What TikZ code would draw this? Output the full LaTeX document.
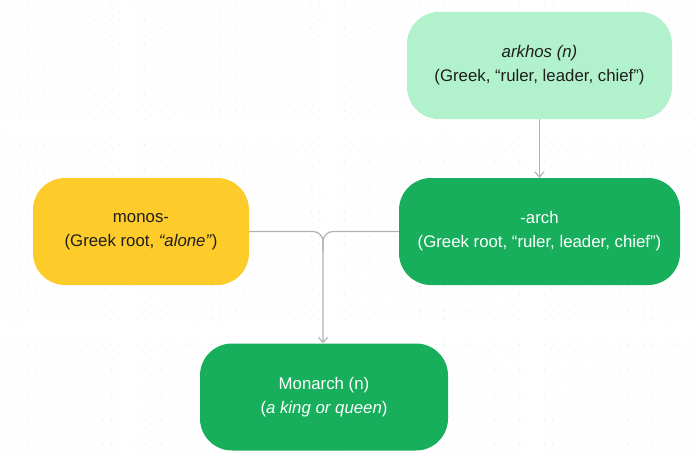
\documentclass[tikz,border=0pt]{standalone}
\usepackage{fontspec}
\setmainfont{Liberation Sans}
\usetikzlibrary{arrows.meta}
\definecolor{lightg}{HTML}{B1F2CC}
\definecolor{yel}{HTML}{FDCB2A}
\definecolor{grn}{HTML}{17AE5C}
\definecolor{txt}{HTML}{1E1E1E}
\definecolor{linec}{HTML}{B3B3B3}
\definecolor{dotc}{HTML}{E4E4E4}
\tikzset{
  box/.style={rounded corners=32pt, minimum height=107pt, align=center, inner sep=0pt,
    font=\fontsize{16.8}{24}\selectfont},
  conn/.style={draw=linec, line width=1.2pt, rounded corners=10pt},
  arr/.style={-{Straight Barb[length=5pt,width=9pt,line width=1.2pt]}}
}
\begin{document}
\begin{tikzpicture}[x=1pt,y=-1pt]
\useasboundingbox (0,0) rectangle (700,460);
\fill[white] (0,0) rectangle (700,460);
\foreach \i in {0,...,83} {
  \foreach \j in {0,...,55} {
    \fill[dotc] ({3+\i*8.33},{3+\j*8.33}) circle (0.55pt);
  }
}
\node[box, fill=lightg, text=txt, minimum width=265pt] (ark) at (539.5,65.5)
  {\textit{arkhos (n)}\\(Greek, “ruler, leader, chief”)};
\node[box, fill=yel, text=txt, minimum width=216pt] (mon) at (141,231.5)
  {monos-\\(Greek root, \textit{“alone”})};
\node[box, fill=grn, text=white, minimum width=281pt] (arch) at (539.5,231.5)
  {-arch\\(Greek root, “ruler, leader, chief”)};
\node[box, fill=grn, text=white, minimum width=248pt] (mona) at (324,397)
  {Monarch (n)\\(\textit{a king or queen})};
\coordinate (j) at (323,231.5);
\draw[conn, arr] (ark.south) -- (arch.north);
\draw[conn, arr] (mon.east) -- (j) -- (mona.north -| j);
\draw[conn] (arch.west) -- (j) -- ++(0,20);
\end{tikzpicture}
\end{document}
